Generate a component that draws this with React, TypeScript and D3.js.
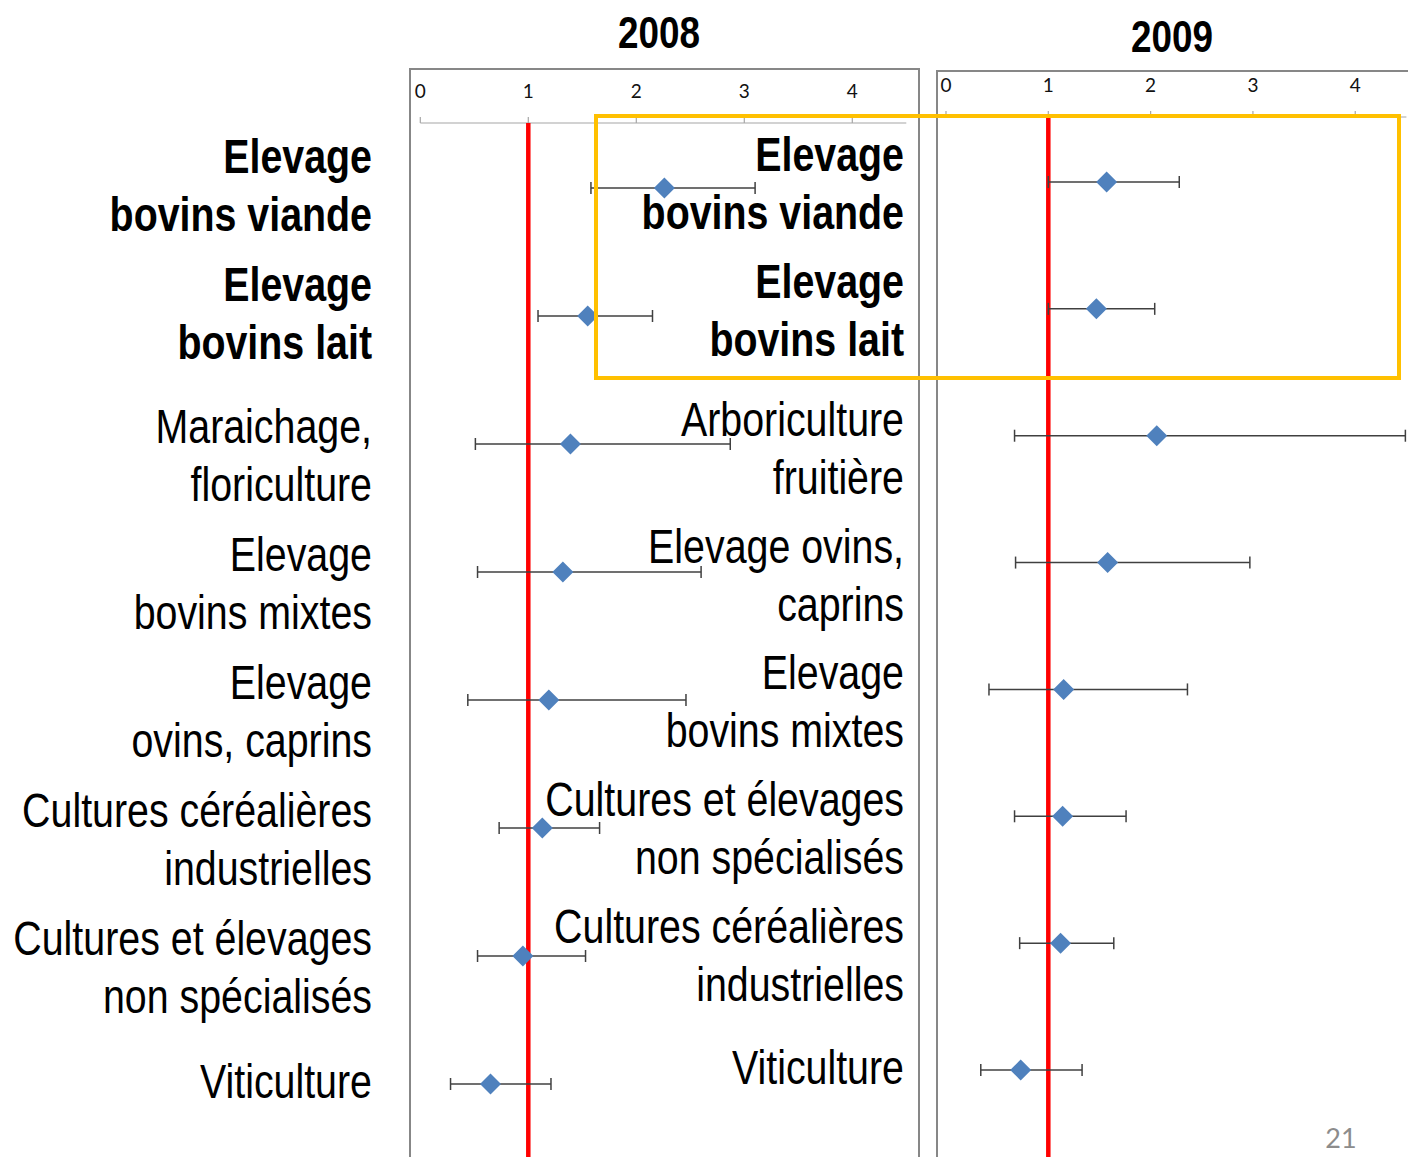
import React from "react";
import * as d3 from "d3";

// ---------- data ----------
const labels2008: string[][] = [
  ["Elevage", "bovins viande"],
  ["Elevage", "bovins lait"],
  ["Maraichage,", "floriculture"],
  ["Elevage", "bovins mixtes"],
  ["Elevage", "ovins, caprins"],
  ["Cultures céréalières", "industrielles"],
  ["Cultures et élevages", "non spécialisés"],
  ["Viticulture"],
];
const est2008: number[] = [2.26, 1.55, 1.39, 1.32, 1.19, 1.13, 0.95, 0.65];
const low2008: number[] = [1.58, 1.09, 0.51, 0.53, 0.44, 0.73, 0.53, 0.28];
const high2008: number[] = [3.1, 2.15, 2.87, 2.6, 2.46, 1.66, 1.53, 1.21];

const labels2009: string[][] = [
  ["Elevage", "bovins viande"],
  ["Elevage", "bovins lait"],
  ["Arboriculture", "fruitière"],
  ["Elevage ovins,", "caprins"],
  ["Elevage", "bovins mixtes"],
  ["Cultures et élevages", "non spécialisés"],
  ["Cultures céréalières", "industrielles"],
  ["Viticulture"],
];
const est2009: number[] = [1.57, 1.47, 2.06, 1.58, 1.15, 1.14, 1.12, 0.73];
const low2009: number[] = [1.0, 1.0, 0.67, 0.68, 0.42, 0.67, 0.72, 0.34];
const high2009: number[] = [2.28, 2.04, 4.49, 2.97, 2.36, 1.76, 1.64, 1.33];

const boldRows: number[] = [0, 1];
const ticks: number[] = [0, 1, 2, 3, 4];
const years: string[] = ["2008", "2009"];
const refValue = 1;
const pageNumber = "21";

// ---------- layout ----------
const W = 1408;
const H = 1157;
const FONT = "'Liberation Sans', Arial, sans-serif";
const NARROW = 0.82; // emulate Arial Narrow
const TICKFONT = "Lato, 'Open Sans', sans-serif";
const LABEL_SIZE = 48;
const LINE_H = 58;

const x08 = d3.scaleLinear().domain([0, 4.5]).range([420.3, 906.3]);
const x09 = d3.scaleLinear().domain([0, 4.5]).range([946, 1406.4]);
const y08 = d3.scaleLinear().domain([0, 7]).range([188, 1084]);
const y09 = d3.scaleLinear().domain([0, 7]).range([182, 1070]);

function Diamond({ cx, cy }: { cx: number; cy: number }) {
  const r = 10.5;
  const p = d3.path();
  p.moveTo(cx, cy - r);
  p.lineTo(cx + r, cy);
  p.lineTo(cx, cy + r);
  p.lineTo(cx - r, cy);
  p.closePath();
  return <path d={p.toString()} fill="#4F81BD" />;
}

function NarrowText({
  x,
  y,
  anchor,
  size,
  bold,
  children,
}: {
  x: number;
  y: number;
  anchor: "start" | "middle" | "end";
  size: number;
  bold: boolean;
  children: React.ReactNode;
}) {
  return (
    <g transform={`translate(${x},${y}) scale(${NARROW},1)`}>
      <text
        x={0}
        y={0}
        textAnchor={anchor}
        dominantBaseline="central"
        fontFamily={FONT}
        fontSize={size}
        fontWeight={bold ? "bold" : "normal"}
        fill="#000"
      >
        {children}
      </text>
    </g>
  );
}

function Panel({
  x,
  y,
  est,
  low,
  high,
  axisY,
  labelY,
}: {
  x: d3.ScaleLinear<number, number>;
  y: d3.ScaleLinear<number, number>;
  est: number[];
  low: number[];
  high: number[];
  axisY: number;
  labelY: number;
}) {
  const [r0, r1] = x.range();
  return (
    <g>
      <line x1={r0} x2={r1} y1={axisY} y2={axisY} stroke="#a6a6a6" strokeWidth={1.2} />
      {ticks.map((t) => (
        <g key={t}>
          <line x1={x(t)} x2={x(t)} y1={axisY - 6} y2={axisY} stroke="#a6a6a6" strokeWidth={1.2} />
          <text
            x={x(t)}
            y={labelY}
            textAnchor="middle"
            dominantBaseline="central"
            fontFamily={TICKFONT}
            fontSize={19}
            fill="#111"
          >
            {t}
          </text>
        </g>
      ))}
      <line
        x1={x(refValue)}
        x2={x(refValue)}
        y1={axisY}
        y2={H}
        stroke="#FF0000"
        strokeWidth={4.5}
      />
      {est.map((v, i) => {
        const cy = y(i);
        return (
          <g key={i}>
            <line x1={x(low[i])} x2={x(high[i])} y1={cy} y2={cy} stroke="#404040" strokeWidth={1.5} />
            <line x1={x(low[i])} x2={x(low[i])} y1={cy - 6} y2={cy + 6} stroke="#404040" strokeWidth={1.5} />
            <line x1={x(high[i])} x2={x(high[i])} y1={cy - 6} y2={cy + 6} stroke="#404040" strokeWidth={1.5} />
            <Diamond cx={x(v)} cy={cy} />
          </g>
        );
      })}
    </g>
  );
}

function Label({ lines, x, cy, bold }: { lines: string[]; x: number; cy: number; bold: boolean }) {
  const n = lines.length;
  return (
    <g>
      {lines.map((l, k) => (
        <NarrowText key={k} x={x} y={cy + (k - (n - 1) / 2) * LINE_H} anchor="end" size={LABEL_SIZE} bold={bold}>
          {l}
        </NarrowText>
      ))}
    </g>
  );
}

function labelOffset(lines: string[], bold: boolean, boldOffset: number, regularOffset: number) {
  if (lines.length === 1) return -3;
  return bold ? boldOffset : regularOffset;
}

export default function App() {
  return (
    <svg
      width={W}
      height={H}
      style={{ position: "absolute", left: 0, top: 0, background: "#fff" }}
    >
      <rect x={0} y={0} width={W} height={H} fill="#fff" />
      {/* frames */}
      <rect x={410} y={69} width={509} height={1200} fill="none" stroke="#878787" strokeWidth={2} />
      <rect x={937} y={71} width={600} height={1200} fill="none" stroke="#878787" strokeWidth={2} />

      {/* titles */}
      <NarrowText x={659} y={33} anchor="middle" size={45} bold>
        {years[0]}
      </NarrowText>
      <NarrowText x={1172} y={37} anchor="middle" size={45} bold>
        {years[1]}
      </NarrowText>

      <Panel x={x08} y={y08} est={est2008} low={low2008} high={high2008} axisY={123} labelY={90} />
      <Panel x={x09} y={y09} est={est2009} low={low2009} high={high2009} axisY={117} labelY={84} />

      {/* left labels (2008) */}
      {labels2008.map((l, i) => {
        const b = boldRows.includes(i);
        return <Label key={i} lines={l} x={372} cy={y08(i) + labelOffset(l, b, -3, 11)} bold={b} />;
      })}
      {/* labels for 2009 categories */}
      {labels2009.map((l, i) => {
        const b = boldRows.includes(i);
        return <Label key={i} lines={l} x={904} cy={y09(i) + labelOffset(l, b, 1, 12)} bold={b} />;
      })}

      {/* highlight box */}
      <rect x={596} y={116} width={803} height={262} fill="none" stroke="#FFC000" strokeWidth={4} />

      <text x={1341} y={1137} textAnchor="middle" dominantBaseline="central" fontFamily={TICKFONT} fontSize={27} fill="#8c8c8c">
        {pageNumber}
      </text>
    </svg>
  );
}
